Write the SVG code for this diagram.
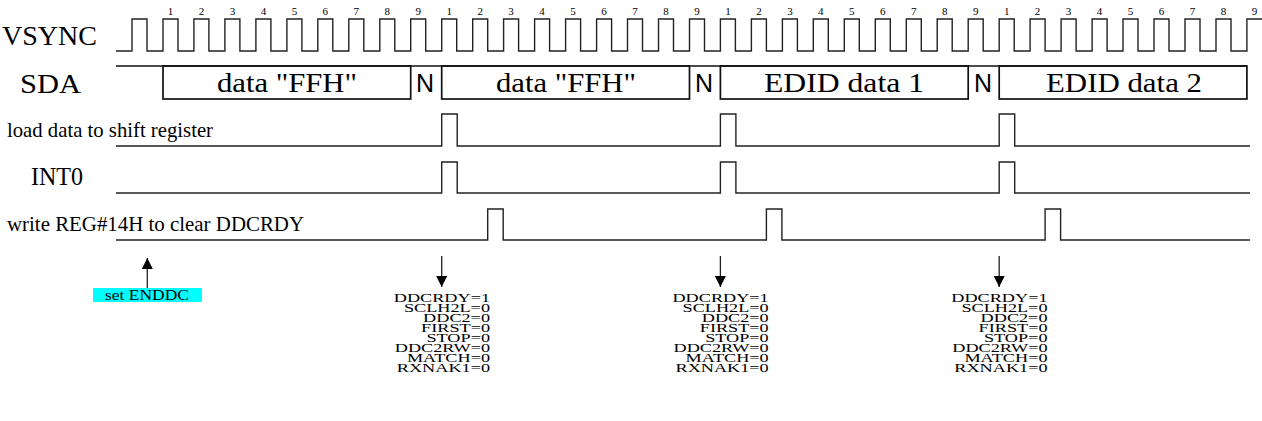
<svg xmlns="http://www.w3.org/2000/svg" width="1262" height="421" viewBox="0 0 1262 421">
<style>
.sig{fill:none;stroke:#222;stroke-width:1.4;stroke-linejoin:miter}
.box{fill:none;stroke:#111;stroke-width:1.7}
.t{font-family:"Liberation Serif","Times New Roman",serif;fill:#000}
.n{font-family:"Liberation Sans",Arial,sans-serif;fill:#000;text-anchor:middle}
.dig{font-family:"Liberation Serif","Times New Roman",serif;font-size:11px;text-anchor:middle;fill:#000}
.st{font-family:"Liberation Serif","Times New Roman",serif;font-size:13.5px;text-anchor:end;fill:#000}
.arr{stroke:#222;stroke-width:1.3;fill:none}
</style>
<defs>
<marker id="ah" markerUnits="userSpaceOnUse" markerWidth="12" markerHeight="12" viewBox="0 0 12 12" refX="11" refY="6" orient="auto">
<path d="M0,0.5 L11,6 L0,11.5 Z" fill="#000"/>
</marker>
</defs>
<rect width="1262" height="421" fill="#fff"/>

<g id="vsync">
<text class="t" x="2" y="45" font-size="27" textLength="95" lengthAdjust="spacingAndGlyphs">VSYNC</text>
<path class="sig" d="M116,51 H132 V19 H147 V51 H163 V19 H178 V51 H193.9 V19 H208.9 V51 H224.9 V19 H239.9 V51 H255.9 V19 H270.9 V51 H286.9 V19 H301.9 V51 H317.8 V19 H332.8 V51 H348.8 V19 H363.8 V51 H379.8 V19 H394.8 V51 H410.7 V19 H425.7 V51 H441.7 V19 H456.7 V51 H472.7 V19 H487.7 V51 H503.6 V19 H518.6 V51 H534.6 V19 H549.6 V51 H565.6 V19 H580.6 V51 H596.6 V19 H611.6 V51 H627.5 V19 H642.5 V51 H658.5 V19 H673.5 V51 H689.5 V19 H704.5 V51 H720.4 V19 H735.4 V51 H751.4 V19 H766.4 V51 H782.4 V19 H797.4 V51 H813.3 V19 H828.3 V51 H844.3 V19 H859.3 V51 H875.3 V19 H890.3 V51 H906.3 V19 H921.3 V51 H937.2 V19 H952.2 V51 H968.2 V19 H983.2 V51 H999.2 V19 H1014.2 V51 H1030.1 V19 H1045.1 V51 H1061.1 V19 H1076.1 V51 H1092.1 V19 H1107.1 V51 H1123 V19 H1138 V51 H1154 V19 H1169 V51 H1185 V19 H1200 V51 H1216 V19 H1231 V51 H1246.9 V19 H1262"/>
<g class="dig">
<text x="170.5" y="15">1</text><text x="201.4" y="15">2</text><text x="232.4" y="15">3</text><text x="263.4" y="15">4</text><text x="294.4" y="15">5</text><text x="325.3" y="15">6</text><text x="356.3" y="15">7</text><text x="387.3" y="15">8</text><text x="418.2" y="15">9</text>
<text x="449.2" y="15">1</text><text x="480.2" y="15">2</text><text x="511.1" y="15">3</text><text x="542.1" y="15">4</text><text x="573.1" y="15">5</text><text x="604.1" y="15">6</text><text x="635" y="15">7</text><text x="666" y="15">8</text><text x="697" y="15">9</text>
<text x="727.9" y="15">1</text><text x="758.9" y="15">2</text><text x="789.9" y="15">3</text><text x="820.8" y="15">4</text><text x="851.8" y="15">5</text><text x="882.8" y="15">6</text><text x="913.8" y="15">7</text><text x="944.7" y="15">8</text><text x="975.7" y="15">9</text>
<text x="1006.7" y="15">1</text><text x="1037.6" y="15">2</text><text x="1068.6" y="15">3</text><text x="1099.6" y="15">4</text><text x="1130.5" y="15">5</text><text x="1161.5" y="15">6</text><text x="1192.5" y="15">7</text><text x="1223.5" y="15">8</text><text x="1254.4" y="15">9</text>
</g>
</g>

<g id="sda">
<text class="t" x="20" y="93" font-size="27" textLength="61" lengthAdjust="spacingAndGlyphs">SDA</text>
<path class="box" d="M116,66 H1247"/>
<rect class="box" x="163" y="66" width="247.7" height="33"/>
<rect class="box" x="441.7" y="66" width="247.8" height="33"/>
<rect class="box" x="720.4" y="66" width="247.8" height="33"/>
<rect class="box" x="999.2" y="66" width="247.7" height="33"/>
<text class="t" x="287" y="92" font-size="27" text-anchor="middle" textLength="140" lengthAdjust="spacingAndGlyphs">data "FFH"</text>
<text class="t" x="566" y="92" font-size="27" text-anchor="middle" textLength="140" lengthAdjust="spacingAndGlyphs">data "FFH"</text>
<text class="t" x="844" y="92" font-size="27" text-anchor="middle" textLength="160" lengthAdjust="spacingAndGlyphs">EDID data 1</text>
<text class="t" x="1124" y="92" font-size="27" text-anchor="middle" textLength="156" lengthAdjust="spacingAndGlyphs">EDID data 2</text>
<text class="n" x="425" y="92" font-size="25">N</text>
<text class="n" x="704" y="92" font-size="25">N</text>
<text class="n" x="983" y="92" font-size="25">N</text>
</g>

<g id="load">
<text class="t" x="7" y="137" font-size="21" textLength="206" lengthAdjust="spacingAndGlyphs">load data to shift register</text>
<path class="sig" d="M116,146 H441.7 V114 H457.2 V146 H720.4 V114 H735.9 V146 H999.2 V114 H1014.7 V146 H1250"/>
</g>

<g id="int0">
<text class="t" x="31" y="185" font-size="25" textLength="52" lengthAdjust="spacingAndGlyphs">INT0</text>
<path class="sig" d="M116,193 H441.7 V162 H457.2 V193 H720.4 V162 H735.9 V193 H999.2 V162 H1014.7 V193 H1250"/>
</g>

<g id="write">
<text class="t" x="7" y="231" font-size="21" textLength="297" lengthAdjust="spacingAndGlyphs">write REG#14H to clear DDCRDY</text>
<path class="sig" d="M116,240 H487.7 V209 H503.2 V240 H766.4 V209 H781.9 V240 H1045.1 V209 H1060.6 V240 H1250"/>
</g>

<g id="enddc">
<rect x="93" y="288" width="109" height="14" fill="#00ffff"/>
<text class="t" x="147" y="300" font-size="15" text-anchor="middle" textLength="84" lengthAdjust="spacingAndGlyphs">set ENDDC</text>
</g>

<g id="status1" transform="translate(490,0) scale(1.35,1)">
<text class="st" x="0" y="302.3">DDCRDY=1</text>
<text class="st" x="0" y="312.2">SCLH2L=0</text>
<text class="st" x="0" y="322.1">DDC2=0</text>
<text class="st" x="0" y="332">FIRST=0</text>
<text class="st" x="0" y="341.9">STOP=0</text>
<text class="st" x="0" y="351.8">DDC2RW=0</text>
<text class="st" x="0" y="361.7">MATCH=0</text>
<text class="st" x="0" y="371.6">RXNAK1=0</text>
</g>
<g id="status2" transform="translate(768.7,0) scale(1.35,1)">
<text class="st" x="0" y="302.3">DDCRDY=1</text>
<text class="st" x="0" y="312.2">SCLH2L=0</text>
<text class="st" x="0" y="322.1">DDC2=0</text>
<text class="st" x="0" y="332">FIRST=0</text>
<text class="st" x="0" y="341.9">STOP=0</text>
<text class="st" x="0" y="351.8">DDC2RW=0</text>
<text class="st" x="0" y="361.7">MATCH=0</text>
<text class="st" x="0" y="371.6">RXNAK1=0</text>
</g>
<g id="status3" transform="translate(1047.5,0) scale(1.35,1)">
<text class="st" x="0" y="302.3">DDCRDY=1</text>
<text class="st" x="0" y="312.2">SCLH2L=0</text>
<text class="st" x="0" y="322.1">DDC2=0</text>
<text class="st" x="0" y="332">FIRST=0</text>
<text class="st" x="0" y="341.9">STOP=0</text>
<text class="st" x="0" y="351.8">DDC2RW=0</text>
<text class="st" x="0" y="361.7">MATCH=0</text>
<text class="st" x="0" y="371.6">RXNAK1=0</text>
</g>

<g id="connectors">
<line class="arr" x1="147.3" y1="288" x2="147.3" y2="258" marker-end="url(#ah)"/>
<line class="arr" x1="441.7" y1="256" x2="441.7" y2="287" marker-end="url(#ah)"/>
<line class="arr" x1="720.4" y1="256" x2="720.4" y2="287" marker-end="url(#ah)"/>
<line class="arr" x1="999.2" y1="256" x2="999.2" y2="287" marker-end="url(#ah)"/>
</g>
</svg>
